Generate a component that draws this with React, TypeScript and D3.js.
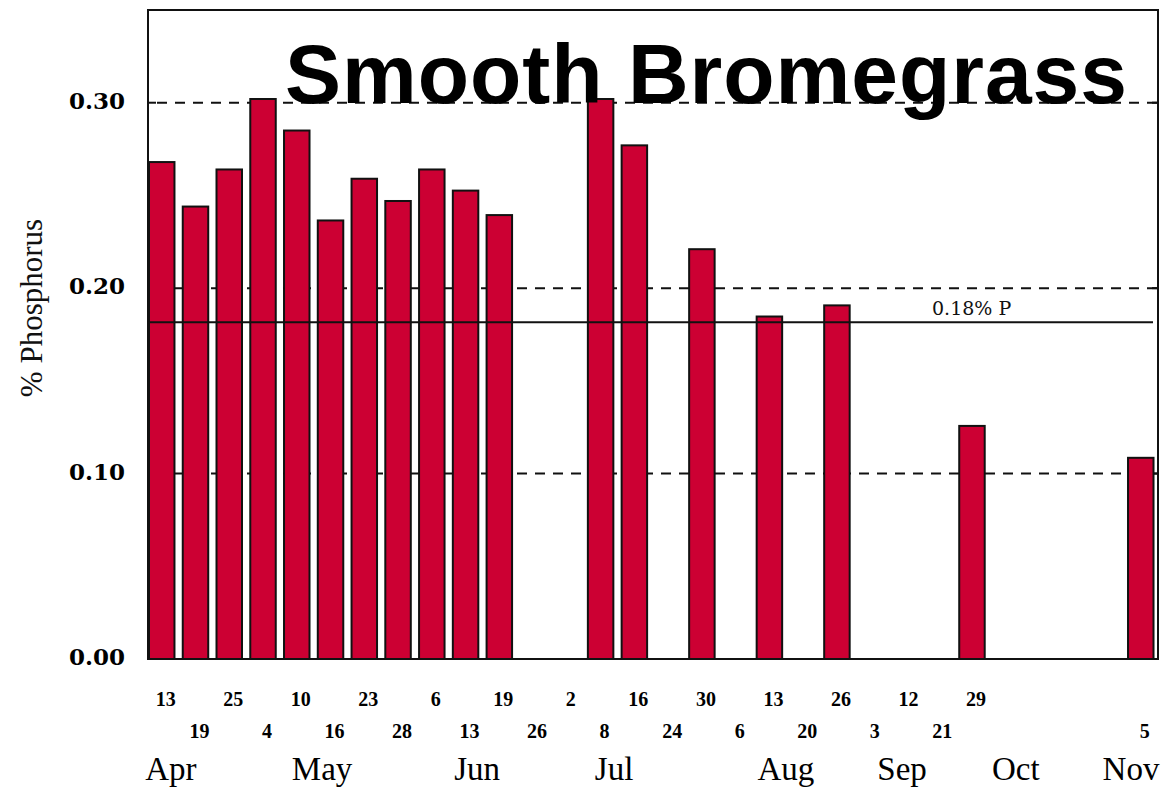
import * as d3 from 'd3'

// sampling dates, one slot per date on the x axis ('' = no label)
const dayLabels = ['13', '19', '25', '4', '10', '16', '23', '28', '6', '13', '19', '26', '2', '8', '16', '24', '30', '6', '13', '20', '26', '3', '12', '21', '29', '', '', '', '', '5']

// % phosphorus per slot, null where no sample was taken
const phosphorus: (number | null)[] = [
  0.268, 0.244, 0.264, 0.302, 0.285, 0.2365, 0.259, 0.247, 0.264, 0.2526, 0.2394,
  null, null, 0.302, 0.277, null, 0.221, null, 0.1847, null, 0.1907,
  null, null, null, 0.1257, null, null, null, null, 0.1085,
]

// month names and where they sit, in slot units
const months = ['Apr', 'May', 'Jun', 'Jul', 'Aug', 'Sep', 'Oct', 'Nov']
const monthSlots = [0.27, 4.75, 9.34, 13.4, 18.49, 21.93, 25.3, 28.71]

const yTicks = [0, 0.1, 0.2, 0.3]
const gridTicks = [0.1, 0.2, 0.3]
const threshold = 0.18
const thresholdLabel = '0.18% P'
const title = 'Smooth Bromegrass'
const yTitle = '% Phosphorus'

const W = 1173
const H = 791
const left = 148
const right = 1158
const top = 10
const bottom = 659

export default function App() {
  const x = d3
    .scaleBand<number>()
    .domain(d3.range(dayLabels.length))
    .range([left, right])
    .paddingInner(0.245)
    .paddingOuter(0.081)
    .align(0.18)
  const y = d3.scaleLinear().domain([0, 0.35]).range([bottom, top])
  const bw = x.bandwidth()
  const c0 = (x(0) as number) + bw / 2
  const serif = '"Liberation Serif", "Times New Roman", serif'

  return (
    <svg width={W} height={H} style={{ position: 'absolute', left: 0, top: 0, background: '#fff' }}>
      {/* dashed grid */}
      {gridTicks.map((t) => (
        <g key={t}>
          <line x1={left} x2={right} y1={y(t)} y2={y(t)} stroke="#111" strokeWidth={2} strokeDasharray="10,8" strokeDashoffset={-9} />
          <line x1={left} x2={left + 8} y1={y(t)} y2={y(t)} stroke="#111" strokeWidth={2} />
          <line x1={right - 6} x2={right} y1={y(t)} y2={y(t)} stroke="#111" strokeWidth={2} />
        </g>
      ))}

      {/* bars */}
      {phosphorus.map((v, i) =>
        v == null ? null : (
          <rect key={i} x={x(i)} y={y(v)} width={bw} height={y(0) - y(v)} fill="#cc0033" stroke="#111" strokeWidth={2} />
        ),
      )}

      {/* frame */}
      <rect x={left} y={top} width={right - left} height={bottom - top} fill="none" stroke="#111" strokeWidth={2} />

      {/* threshold line */}
      <line x1={left} x2={right - 5} y1={y(threshold) - 3} y2={y(threshold) - 3} stroke="#111" strokeWidth={2} />
      <text x={932} y={y(threshold) - 10} fontFamily='"DejaVu Serif", serif' fontSize={19} fill="#111">
        {thresholdLabel}
      </text>

      {/* title */}
      <text x={285} y={y(0.3)} fontFamily='"Liberation Sans", Arial, sans-serif' fontWeight="bold" fontSize={84} textLength={842} lengthAdjust="spacing" fill="#000">
        {title}
      </text>

      {/* y tick labels */}
      {yTicks.map((t) => (
        <text key={t} x={125} y={y(t) + 6} textAnchor="end" fontFamily='"DejaVu Serif", serif' fontWeight="bold" fontSize={23} fill="#000">
          {t.toFixed(2)}
        </text>
      ))}

      <text transform={`translate(42,308) rotate(-90)`} textAnchor="middle" fontFamily={serif} fontSize={31} fill="#111">
        {yTitle}
      </text>

      {/* day labels, alternating rows */}
      {dayLabels.map((d, i) => (
        <text key={i} x={c0 + i * x.step() + 4} y={i % 2 === 0 ? 706 : 738} textAnchor="middle" fontFamily={serif} fontWeight="bold" fontSize={20} fill="#000">
          {d}
        </text>
      ))}

      {/* month labels */}
      {months.map((m, i) => (
        <text key={m} x={c0 + monthSlots[i] * x.step()} y={780} textAnchor="middle" fontFamily={serif} fontSize={33} fill="#000">
          {m}
        </text>
      ))}
    </svg>
  )
}
